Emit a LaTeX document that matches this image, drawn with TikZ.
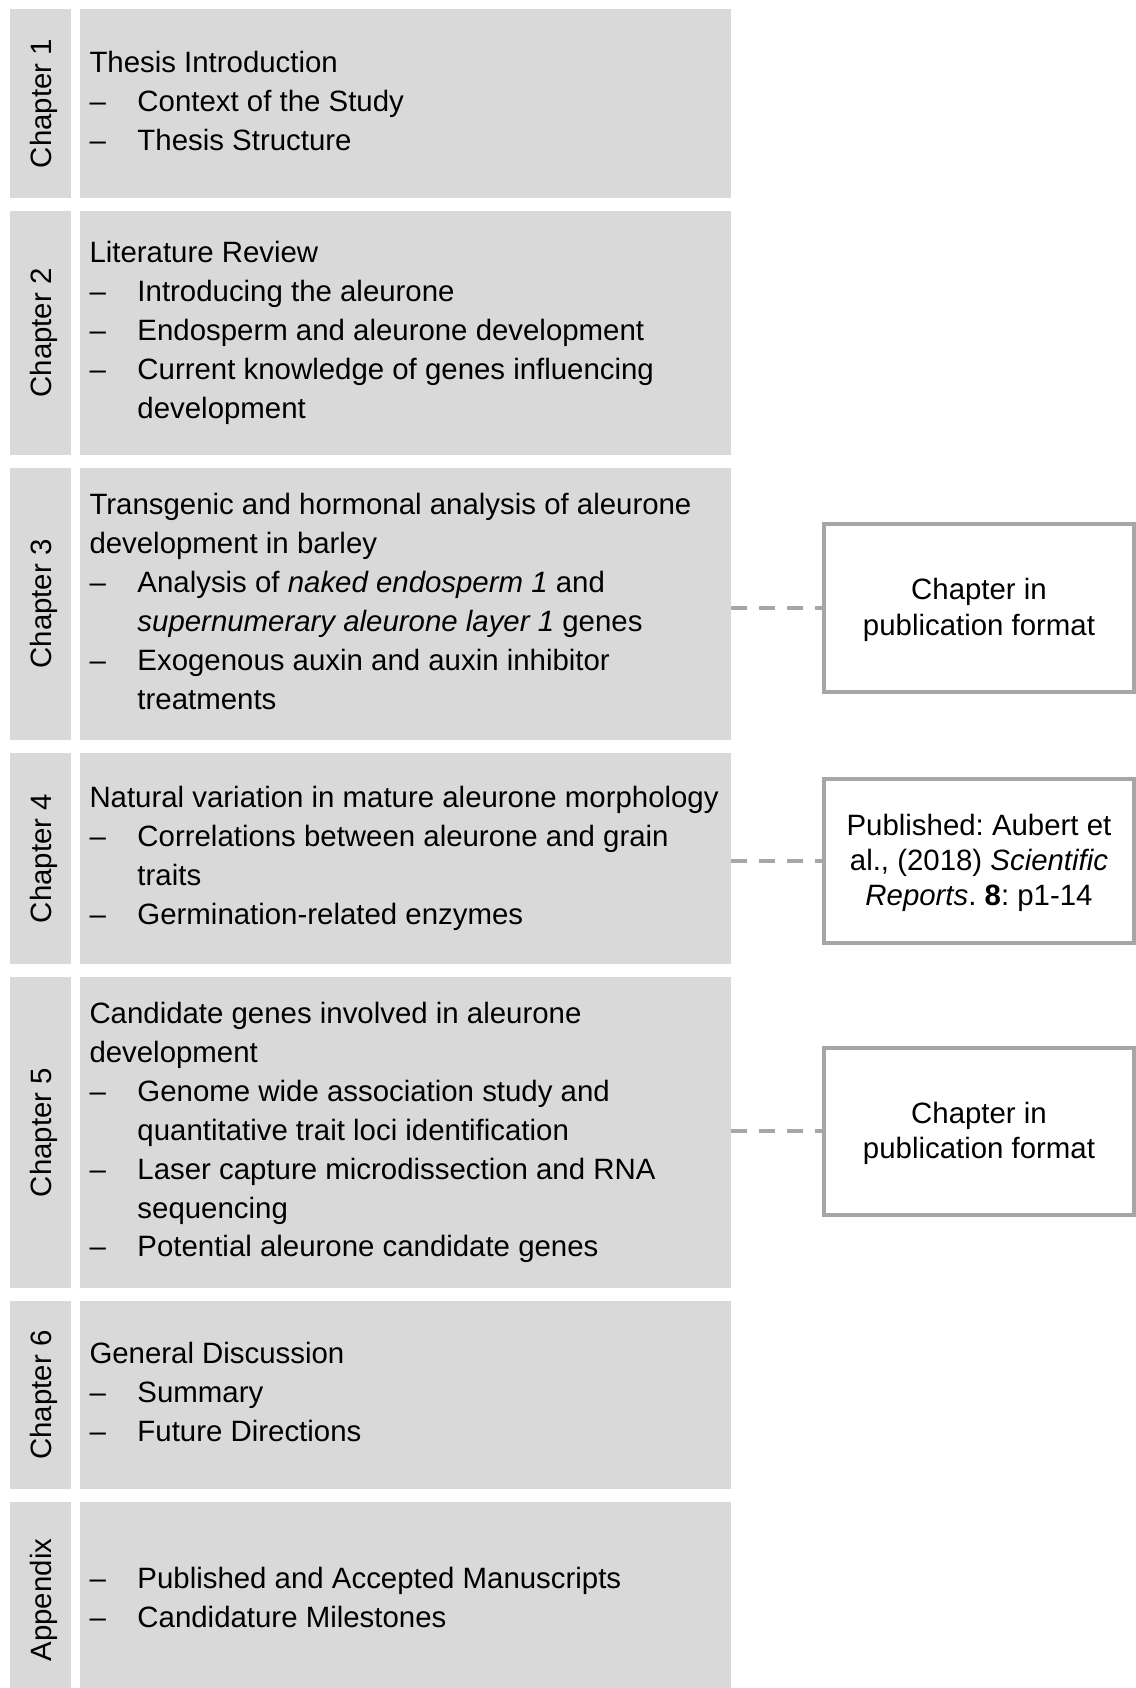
\documentclass[tikz,border=0pt]{standalone}
\usepackage{fontspec}
\setmainfont{Liberation Sans}
\frenchspacing
\definecolor{boxgray}{HTML}{D9D9D9}
\definecolor{linegray}{HTML}{A6A6A6}
\newcommand{\dashitem}{\makebox[24pt][l]{\textendash}}
\newcommand{\contind}{\hspace*{24pt}}
\begin{document}
\frenchspacing
\begin{tikzpicture}[x=0.5pt,y=-0.5pt,
  bodyfont/.style={font={\fontsize{14.7pt}{19.45pt}\selectfont\frenchspacing}},
  mainbox/.style={rectangle, fill=boxgray, draw=none, minimum width=325.5pt, inner sep=0pt, outer sep=0pt},
  labelbox/.style={rectangle, fill=boxgray, draw=none, rotate=90, minimum height=30.5pt, inner sep=0pt, outer sep=0pt, text height=14pt, text depth=3pt, bodyfont},
  bodytext/.style={anchor=west, align=left, inner sep=0pt, outer sep=0pt, bodyfont},
  pubbox/.style={rectangle, draw=linegray, line width=2pt, fill=white, minimum width=155pt, inner sep=0pt, align=center, font={\fontsize{14.7pt}{17.65pt}\selectfont\frenchspacing}},
  link/.style={draw=linegray, line width=2pt, dash pattern=on 8pt off 6pt}
]
\useasboundingbox (0,0) rectangle (1136,1688);
\clip (0,0) rectangle (1136,1688);

% Chapter 1
\node[labelbox, minimum width=94.5pt] (l1) at (40.5,103.5) {Chapter 1};
\node[mainbox, minimum height=94.5pt] (b1) at (405.5,103.5) {};
\node[bodytext] (t1) at (89.5,103.5) {\strut Thesis Introduction\\
\dashitem Context of the Study\\
\dashitem Thesis Structure\strut};

% Chapter 2
\node[labelbox, minimum width=122pt] (l2) at (40.5,333) {Chapter 2};
\node[mainbox, minimum height=122pt] (b2) at (405.5,333) {};
\node[bodytext] (t2) at (89.5,333) {\strut Literature Review\\
\dashitem Introducing the aleurone\\
\dashitem Endosperm and aleurone development\\
\dashitem Current knowledge of genes influencing\\
\contind development\strut};

% Chapter 3
\node[labelbox, minimum width=136pt] (l3) at (40.5,604) {Chapter 3};
\node[mainbox, minimum height=136pt] (b3) at (405.5,604) {};
\node[bodytext] (t3) at (89.5,604) {\strut Transgenic and hormonal analysis of aleurone\\
development in barley\\
\dashitem Analysis of \textit{naked endosperm 1} and\\
\contind\textit{supernumerary aleurone layer 1} genes\\
\dashitem Exogenous auxin and auxin inhibitor\\
\contind treatments\strut};

% Chapter 4
\node[labelbox, minimum width=105.5pt] (l4) at (40.5,858.5) {Chapter 4};
\node[mainbox, minimum height=105.5pt] (b4) at (405.5,858.5) {};
\node[bodytext] (t4) at (89.5,858.5) {\strut Natural variation in mature aleurone morphology\\
\dashitem Correlations between aleurone and grain\\
\contind traits\\
\dashitem Germination-related enzymes\strut};

% Chapter 5
\node[labelbox, minimum width=155.5pt] (l5) at (40.5,1132.5) {Chapter 5};
\node[mainbox, minimum height=155.5pt] (b5) at (405.5,1132.5) {};
\node[bodytext] (t5) at (89.5,1132.5) {\strut Candidate genes involved in aleurone\\
development\\
\dashitem Genome wide association study and\\
\contind quantitative trait loci identification\\
\dashitem Laser capture microdissection and RNA\\
\contind sequencing\\
\dashitem Potential aleurone candidate genes\strut};

% Chapter 6
\node[labelbox, minimum width=94pt] (l6) at (40.5,1395) {Chapter 6};
\node[mainbox, minimum height=94pt] (b6) at (405.5,1395) {};
\node[bodytext] (t6) at (89.5,1395) {\strut General Discussion\\
\dashitem Summary\\
\dashitem Future Directions\strut};

% Appendix
\node[labelbox, minimum width=98pt] (l7) at (40.5,1600) {Appendix};
\node[mainbox, minimum height=98pt] (b7) at (405.5,1600) {};
\node[bodytext] (t7) at (89.5,1600) {\strut\dashitem Published and Accepted Manuscripts\\
\dashitem Candidature Milestones\strut};

% Publication boxes
\node[pubbox, minimum height=84pt] (r1) at (979,608) {\rule{0pt}{13.5pt}Chapter in\\publication format\rule[-3.9pt]{0pt}{3.9pt}};
\node[pubbox, minimum height=82.15pt] (r2) at (979,860.85) {\rule{0pt}{13.5pt}Published: Aubert et\\al., (2018) \textit{Scientific}\\\textit{Reports}. \textbf{8}: p1-14\rule[-3.9pt]{0pt}{3.9pt}};
\node[pubbox, minimum height=83.35pt] (r3) at (979,1131.35) {\rule{0pt}{13.5pt}Chapter in\\publication format\rule[-3.9pt]{0pt}{3.9pt}};

% Dashed connectors
\draw[link] (b3.east |- r1.west) -- (r1.west);
\draw[link] (b4.east |- r2.west) -- (r2.west);
\draw[link] (b5.east |- r3.west) -- (r3.west);
\end{tikzpicture}
\end{document}
